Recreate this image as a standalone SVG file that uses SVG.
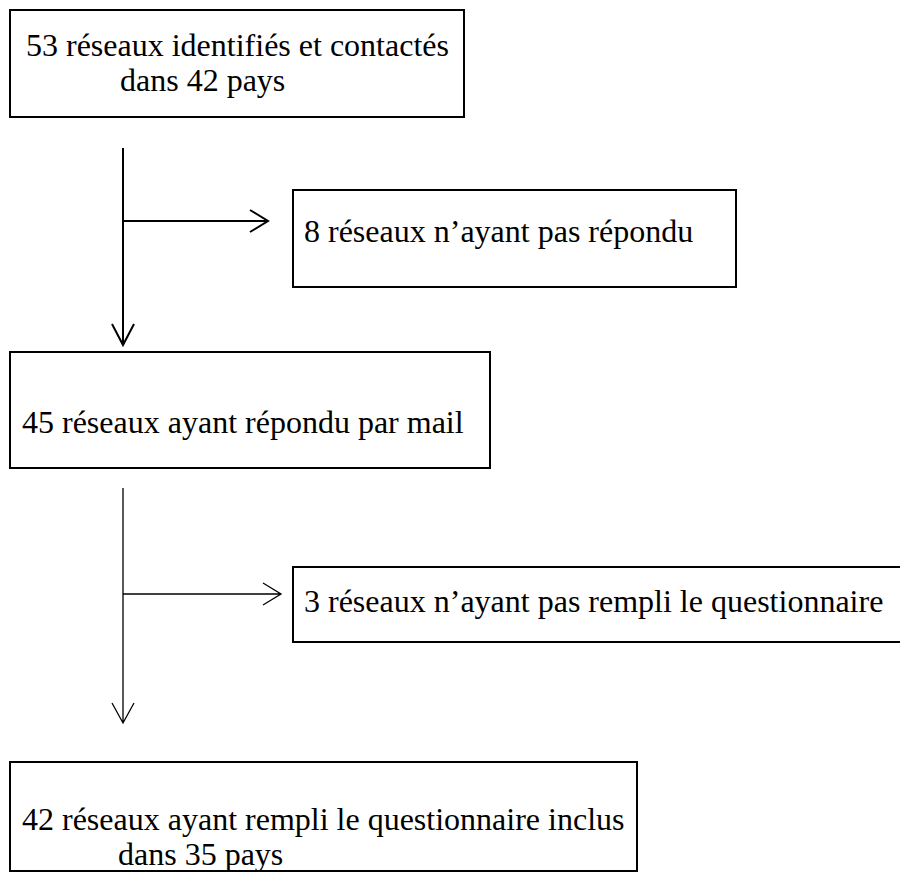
<svg xmlns="http://www.w3.org/2000/svg" width="900" height="872" viewBox="0 0 900 872">
<defs>
<style>
.box{fill:#fff;stroke:#000;stroke-width:2}
.t{font-family:"Liberation Serif","Times New Roman",serif;font-size:32px;fill:#000}
.c1{fill:none;stroke:#000;stroke-width:2}
.c2{fill:none;stroke:#000;stroke-width:1.3}
</style>
</defs>
<rect width="900" height="872" fill="#fff"/>
<g id="n1"><rect class="box" x="10" y="10" width="454" height="107"/>
<text class="t" x="26" y="56">53 réseaux identifiés et contactés</text>
<text class="t" x="120" y="91">dans 42 pays</text></g>
<g id="n2"><rect class="box" x="293" y="190" width="443" height="97"/>
<text class="t" x="304" y="242">8 réseaux n’ayant pas répondu</text></g>
<g id="n3"><rect class="box" x="10" y="352" width="480" height="116"/>
<text class="t" x="22" y="433">45 réseaux ayant répondu par mail</text></g>
<g id="n4"><rect class="box" x="293" y="567" width="620" height="75"/>
<text class="t" x="304" y="612">3 réseaux n’ayant pas rempli le questionnaire</text></g>
<g id="n5"><rect class="box" x="10" y="762" width="627" height="109"/>
<text class="t" x="22" y="830">42 réseaux ayant rempli le questionnaire inclus</text>
<text class="t" x="118" y="865">dans 35 pays</text></g>
<g id="connectors">
<path class="c1" d="M123 148V345M112 324L123 345L134 324"/>
<path class="c1" d="M123 221H268M250 210L268 221L250 232"/>
<path class="c2" d="M123 488V723M112 703L123 723L134 703"/>
<path class="c2" d="M123 594H281M263 583L281 594L263 605"/>
</g>
</svg>
